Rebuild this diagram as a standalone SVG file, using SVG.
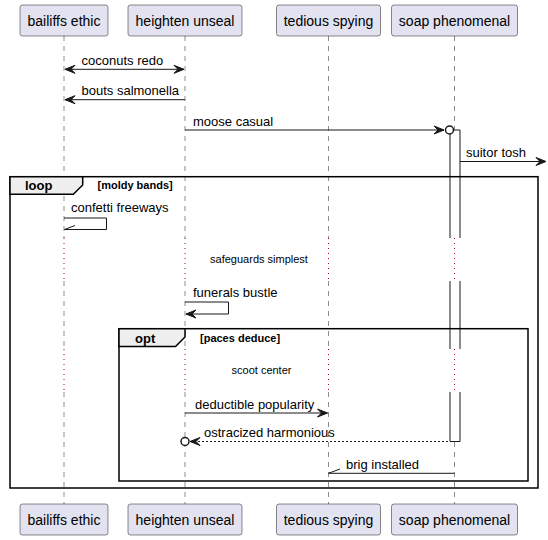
<svg xmlns="http://www.w3.org/2000/svg" width="548" height="540" viewBox="0 0 548 540">
  <defs>
    <style>
      .part rect { fill: #E2E2F0; stroke: #181818; stroke-width: 0.5; }
      .part text { font-family: "Liberation Sans", Arial, sans-serif; font-size: 14px; fill: #000; text-anchor: middle; }
      .life { stroke: #181818; stroke-width: 0.5; stroke-dasharray: 5,5; fill: none; }
      .delay { stroke: #A80036; stroke-width: 1; stroke-dasharray: 1,4; fill: none; }
      .msg { stroke: #181818; stroke-width: 1; fill: none; }
      .dashed { stroke-dasharray: 2,2; }
      .head { fill: #181818; stroke: #181818; stroke-width: 1; }
      .lbl { font-family: "Liberation Sans", Arial, sans-serif; font-size: 13px; fill: #000; }
      .dlbl { font-family: "Liberation Sans", Arial, sans-serif; font-size: 11px; fill: #000; text-anchor: middle; }
      .frame { fill: none; stroke: #000; stroke-width: 1.5; }
      .tab { fill: #EEEEEE; stroke: #000; stroke-width: 1.5; }
      .fkw { font-family: "Liberation Sans", Arial, sans-serif; font-size: 13px; font-weight: bold; fill: #000; }
      .fcond { font-family: "Liberation Sans", Arial, sans-serif; font-size: 11px; font-weight: bold; fill: #000; }
      .actfill { fill: #FFFFFF; stroke: none; }
      .actedge { stroke: #181818; stroke-width: 1; fill: none; }
      .circ { fill: #FFFFFF; stroke: #181818; stroke-width: 1.5; }
    </style>
  </defs>

  <!-- lifelines -->
  <g id="lifelines">
    <path class="life" d="M64,36 V238 M64,281 V349 M64,392 V504"/>
    <path class="life" d="M185,36 V238 M185,281 V349 M185,392 V504"/>
    <path class="life" d="M328.5,36 V238 M328.5,281 V349 M328.5,392 V504"/>
    <path class="life" d="M454.5,36 V238 M454.5,281 V349 M454.5,392 V504"/>
    <path class="delay" d="M64,238 V281 M185,238 V281 M328.5,238 V281"/>
    <path class="delay" d="M64,349 V392 M185,349 V392 M328.5,349 V392"/>
  </g>

  <!-- activation of soap phenomenal, open where the delays cut it -->
  <g id="activation">
    <rect class="actfill" x="450" y="130" width="10" height="108"/>
    <rect class="actfill" x="450" y="281" width="10" height="68"/>
    <rect class="actfill" x="450" y="392" width="10" height="49.5"/>
    <path class="actedge" d="M450,130 H460 M450,441.5 H460 M450,130 V238 M460,130 V238 M450,281 V349 M460,281 V349 M450,392 V441.5 M460,392 V441.5"/>
    <path class="delay" d="M454.5,238 V281 M454.5,349 V392"/>
  </g>

  <!-- combined fragments -->
  <g id="loop">
    <rect class="frame" x="10" y="176.7" width="528" height="311.3"/>
    <path class="tab" d="M10,176.7 H82.7 V185 L73.3,194.3 H10 Z"/>
    <text class="fkw" x="25" y="190">loop</text>
    <text class="fcond" x="97.5" y="189">[moldy bands]</text>
  </g>
  <g id="opt">
    <rect class="frame" x="119" y="328.7" width="409" height="152.3"/>
    <path class="tab" d="M119,328.7 H185 V337 L175.5,346.5 H119 Z"/>
    <text class="fkw" x="135" y="342.5">opt</text>
    <text class="fcond" x="200" y="341.5">[paces deduce]</text>
  </g>

  <!-- delay labels -->
  <g id="delays">
    <text class="dlbl" x="259" y="263">safeguards simplest</text>
    <text class="dlbl" x="261.5" y="374">scoot center</text>
  </g>

  <!-- connectors -->
  <g id="connectors">
    <!-- coconuts redo -->
    <line class="msg" x1="65" y1="69.3" x2="184" y2="69.3"/>
    <polygon class="head" points="65,69.3 75,65.3 71,69.3 75,73.3"/>
    <polygon class="head" points="184,69.3 174,65.3 178,69.3 174,73.3"/>
    <text class="lbl" x="81.5" y="65">coconuts redo</text>

    <!-- bouts salmonella -->
    <line class="msg" x1="65" y1="99.7" x2="185" y2="99.7"/>
    <polygon class="head" points="65,99.7 75,95.7 71,99.7 75,103.7"/>
    <text class="lbl" x="81.5" y="95">bouts salmonella</text>

    <!-- moose casual -->
    <line class="msg" x1="185" y1="130" x2="444" y2="130"/>
    <polygon class="head" points="444,130 434,126 438,130 434,134"/>
    <circle class="circ" cx="449.5" cy="130" r="4"/>
    <text class="lbl" x="193" y="125.5">moose casual</text>

    <!-- suitor tosh -->
    <line class="msg" x1="460" y1="161.5" x2="546" y2="161.5"/>
    <polygon class="head" points="546,161.5 536,157.5 540,161.5 536,165.5"/>
    <text class="lbl" x="466" y="157">suitor tosh</text>

    <!-- confetti freeways (self) -->
    <polyline class="msg" points="64,218 106.5,218 106.5,229.5 64.5,229.5"/>
    <line class="msg" x1="64.5" y1="229.5" x2="75" y2="225.5"/>
    <text class="lbl" x="71" y="212">confetti freeways</text>

    <!-- funerals bustle (self) -->
    <polyline class="msg" points="185,302 228.5,302 228.5,314 186,314"/>
    <polygon class="head" points="186,314 196,310 192,314 196,318"/>
    <text class="lbl" x="193" y="297">funerals bustle</text>

    <!-- deductible popularity -->
    <line class="msg" x1="185" y1="413" x2="327.5" y2="413"/>
    <polygon class="head" points="327.5,413 317.5,409 321.5,413 317.5,417"/>
    <text class="lbl" x="195" y="408.5">deductible popularity</text>

    <!-- ostracized harmonious -->
    <line class="msg dashed" x1="190" y1="441.5" x2="450" y2="441.5"/>
    <polygon class="head" points="190,441.5 200,437.5 196,441.5 200,445.5"/>
    <circle class="circ" cx="185" cy="441.5" r="4"/>
    <text class="lbl" x="204" y="437">ostracized harmonious</text>

    <!-- brig installed -->
    <line class="msg" x1="328.5" y1="473.3" x2="454.5" y2="473.3"/>
    <line class="msg" x1="328.5" y1="473.3" x2="340" y2="469"/>
    <text class="lbl" x="346" y="468.5">brig installed</text>
  </g>

  <!-- participants -->
  <g id="bailiffs-ethic" class="part">
    <rect x="20" y="5" width="88" height="31" rx="2.5"/>
    <text x="64" y="26">bailiffs ethic</text>
    <rect x="20" y="504" width="88" height="31" rx="2.5"/>
    <text x="64" y="525">bailiffs ethic</text>
  </g>
  <g id="heighten-unseal" class="part">
    <rect x="128" y="5" width="114" height="31" rx="2.5"/>
    <text x="185" y="26">heighten unseal</text>
    <rect x="128" y="504" width="114" height="31" rx="2.5"/>
    <text x="185" y="525">heighten unseal</text>
  </g>
  <g id="tedious-spying" class="part">
    <rect x="276.5" y="5" width="104" height="31" rx="2.5"/>
    <text x="328.5" y="26">tedious spying</text>
    <rect x="276.5" y="504" width="104" height="31" rx="2.5"/>
    <text x="328.5" y="525">tedious spying</text>
  </g>
  <g id="soap-phenomenal" class="part">
    <rect x="391.5" y="5" width="126" height="31" rx="2.5"/>
    <text x="454.5" y="26">soap phenomenal</text>
    <rect x="391.5" y="504" width="126" height="31" rx="2.5"/>
    <text x="454.5" y="525">soap phenomenal</text>
  </g>
</svg>
